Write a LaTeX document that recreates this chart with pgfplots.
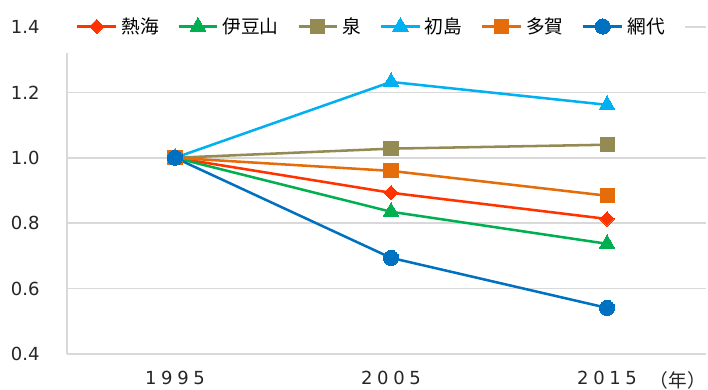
\documentclass[border=0pt]{standalone}
\usepackage{pgfplots}
\pgfplotsset{compat=1.18}
\usepackage{fontspec}
\setmainfont{DejaVu Sans}
\newfontfamily\jp{Noto Sans CJK JP}
\definecolor{cAtami}{HTML}{FF3300}
\definecolor{cIzusan}{HTML}{00B050}
\definecolor{cIzumi}{HTML}{948A54}
\definecolor{cHatsu}{HTML}{00B0F0}
\definecolor{cTaga}{HTML}{E46C0A}
\definecolor{cAjiro}{HTML}{0070C0}
\definecolor{gridc}{HTML}{D9D9D9}
\newcommand{\dsp}{\hspace{3.5pt}}
\begin{document}
\begin{tikzpicture}
\begin{axis}[
  scale only axis, width=479.25pt, height=245.25pt,
  xmin=-0.5, xmax=2.458, ymin=0.4, ymax=1.4,
  xtick={0,1,2}, xticklabels={1\dsp9\dsp9\dsp5, 2\dsp0\dsp0\dsp5, 2\dsp0\dsp1\dsp5},
  ytick={0.4,0.6,0.8,1.0,1.2,1.4},
  /pgf/number format/fixed, /pgf/number format/fixed zerofill, /pgf/number format/precision=1,
  /pgf/number format/assume math mode=true,
  ticklabel style={font=\fontsize{13.5}{16}\selectfont, text=black!85},
  yticklabel style={xshift=-17pt},
  xticklabel style={yshift=-9pt},
  major tick length=0pt,
  ymajorgrids, major grid style={draw=gridc, line width=1.1pt},
  axis x line*=bottom, axis y line*=left,
  axis line style={draw=gridc, line width=1.1pt, -},
  every axis plot/.append style={line width=1.9pt},
  legend columns=6,
  legend style={at={(0.478,1)}, anchor=north, yshift=20.25pt, draw=none, fill=white,
    inner xsep=12pt, inner ysep=11pt,
    font=\jp\fontsize{14}{16}\selectfont,
    /tikz/every even column/.append style={column sep=11pt},
    nodes={inner xsep=3pt}},
  legend image code/.code={\draw[mark repeat=2,mark phase=2] plot coordinates {(0pt,0pt)(14.5pt,0pt)(29pt,0pt)};},
  clip=false,
]
\addplot[color=cAtami, mark=square*, mark size=3.8pt, mark options={solid, line width=0pt, rotate=45}] coordinates {(0,1.0)(1,0.893)(2,0.813)};
\addlegendentry{熱海}
\addplot[color=cIzusan, mark=triangle*, mark size=6.8pt, mark options={solid, line width=0pt}] coordinates {(0,1.0)(1,0.835)(2,0.737)};
\addlegendentry{伊豆山}
\addplot[color=cIzumi, mark=square*, mark size=5.3pt, mark options={solid, line width=0pt}] coordinates {(0,1.0)(1,1.028)(2,1.040)};
\addlegendentry{泉}
\addplot[color=cHatsu, mark=triangle*, mark size=6.8pt, mark options={solid, line width=0pt}] coordinates {(0,1.0)(1,1.232)(2,1.162)};
\addlegendentry{初島}
\addplot[color=cTaga, mark=square*, mark size=5.3pt, mark options={solid, line width=0pt}] coordinates {(0,1.0)(1,0.960)(2,0.884)};
\addlegendentry{多賀}
\addplot[color=cAjiro, mark=*, mark size=5.7pt, mark options={solid, line width=0pt}] coordinates {(0,1.0)(1,0.694)(2,0.541)};
\addlegendentry{網代}
\node[anchor=center, font=\jp\fontsize{14}{16}\selectfont, text=black!85] at (rel axis cs:0.956,0) [yshift=-19.5pt] {（年）};
\coordinate (ll) at (rel axis cs:0,0);
\coordinate (ur) at (rel axis cs:1,1);
\end{axis}
\pgfresetboundingbox
\path ([shift={(-50.25pt,-26.25pt)}]ll) rectangle ([shift={(1.5pt,20.25pt)}]ur);
\end{tikzpicture}
\end{document}
